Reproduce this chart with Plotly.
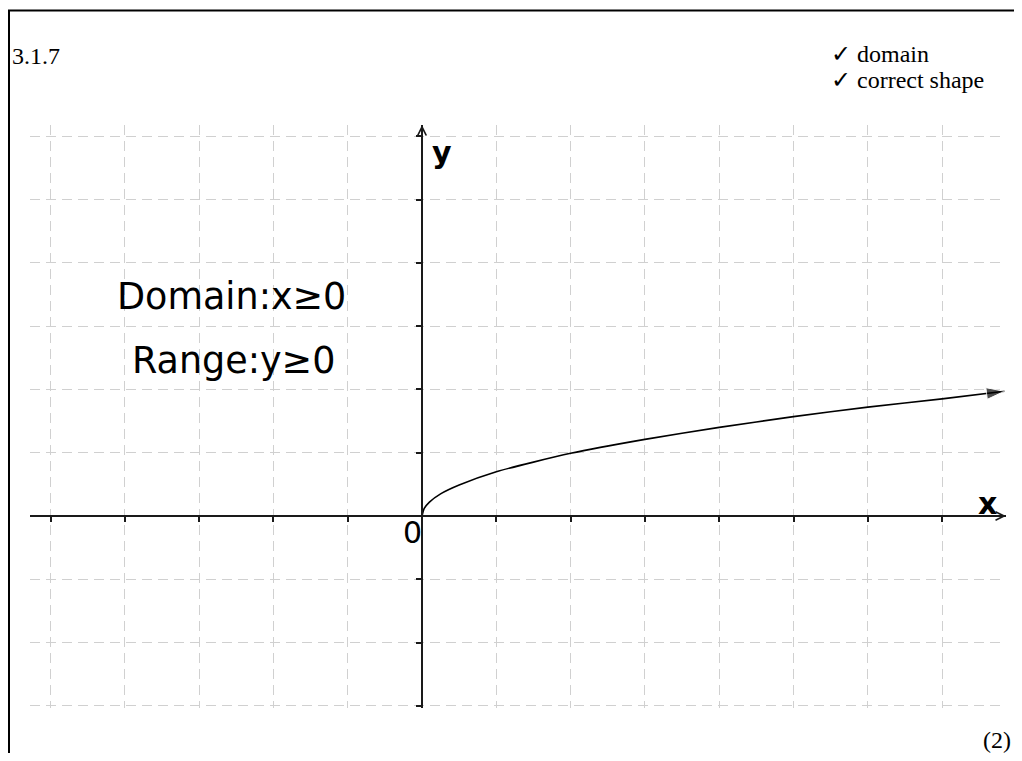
import plotly.graph_objects as go

# ---- data ----
curve_x = [0, 0.03, 0.1, 0.25, 0.5, 1, 2, 3, 4, 5, 6, 7, 7.84]
curve_y = [0, 0.12, 0.22, 0.35, 0.49, 0.70, 0.99, 1.21, 1.40, 1.57, 1.72, 1.85, 1.97]
x_ticks = [-5, -4, -3, -2, -1, 1, 2, 3, 4, 5, 6, 7]
y_ticks = [-3, -2, -1, 1, 2, 3, 4, 5, 6]
x_range = [-5.276, 7.86]
y_range = [-3.033, 6.177]

question_label = "3.1.7"
mark_lines = ["✓ domain", "✓ correct shape"]
marks_total = "(2)"
domain_text = "Domain:x≥0"
range_text = "Range:y≥0"

# ---- layout geometry (pixels, in page coordinates) ----
OFF = 8  # page body margin
W, H = 1022 - 2 * OFF, 761 - 2 * OFF
PL, PR, PT, PB = 30, 1006, 125, 708  # plot area edges (page px)


def px(xp):
    return (xp - PL) / (PR - PL)


def py(yp):
    return (PB - yp) / (PB - PT)


AX = "#1a1a1a"
GRID = "#d0d0d0"

fig = go.Figure()
fig.add_trace(go.Scatter(
    x=curve_x, y=curve_y, mode="lines+markers",
    line=dict(color="black", width=1.6, shape="spline", smoothing=0.6),
    marker=dict(symbol="arrow", angleref="previous", color="black",
                size=[0] * (len(curve_x) - 1) + [19]),
    cliponaxis=False, hoverinfo="skip",
))

x_axis_pos = (0 - y_range[0]) / (y_range[1] - y_range[0])
y_axis_pos = (0 - x_range[0]) / (x_range[1] - x_range[0])

common = dict(showticklabels=False, showgrid=True, gridcolor=GRID, gridwidth=1.2,
              griddash="10px,6px", zeroline=False, showline=True, linecolor=AX,
              linewidth=1.5, ticks="outside", ticklen=5, tickwidth=1.5,
              tickcolor=AX, anchor="free", fixedrange=True)

fig.update_layout(
    width=W, height=H,
    margin=dict(l=PL - OFF, r=W + OFF - PR, t=PT - OFF, b=H + OFF - PB),
    paper_bgcolor="white", plot_bgcolor="white", showlegend=False,
    xaxis=dict(range=x_range, tickvals=x_ticks, position=x_axis_pos, **common),
    yaxis=dict(range=y_range, tickvals=y_ticks, position=y_axis_pos, **common),
)

serif = "Liberation Serif, Times New Roman, serif"
sans = "DejaVu Sans, sans-serif"


def text(t, xp, yp, size, family, xanchor="left", bold=False):
    fig.add_annotation(
        x=px(xp), y=py(yp), xref="paper", yref="paper", text=("<b>%s</b>" % t) if bold else t,
        showarrow=False, xanchor=xanchor, yanchor="middle", borderpad=0,
        font=dict(size=size, family=family, color="black"))


text(question_label, 11, 56, 24, serif)
text(mark_lines[0], 830, 54, 24, serif)
text(mark_lines[1], 830, 80, 24, serif)
text(marks_total, 1012, 740, 24, serif, xanchor="right")
text(domain_text, 116, 296, 36.5, sans)
text(range_text, 131, 360, 36.5, sans)
text("y", 442, 152, 30, sans, xanchor="center", bold=True)
text("x", 987, 503, 30, sans, xanchor="center", bold=True)
text("0", 412, 532, 30, sans, xanchor="center")

# axis arrowheads
fig.add_annotation(x=x_range[1], y=0, xref="x", yref="y", text="", showarrow=True,
                   ax=-14, ay=0, arrowhead=5, arrowsize=1.3, arrowwidth=1.3, arrowcolor=AX)
fig.add_annotation(x=0, y=y_range[1], xref="x", yref="y", text="", showarrow=True,
                   ax=0, ay=14, arrowhead=5, arrowsize=1.3, arrowwidth=1.3, arrowcolor=AX)

# page frame
fig.add_shape(type="rect", xref="paper", yref="paper",
              x0=px(OFF + 1), x1=px(1050), y0=py(800), y1=py(10.5),
              line=dict(color="black", width=2), fillcolor="rgba(0,0,0,0)")

fig.write_html("out.html")
